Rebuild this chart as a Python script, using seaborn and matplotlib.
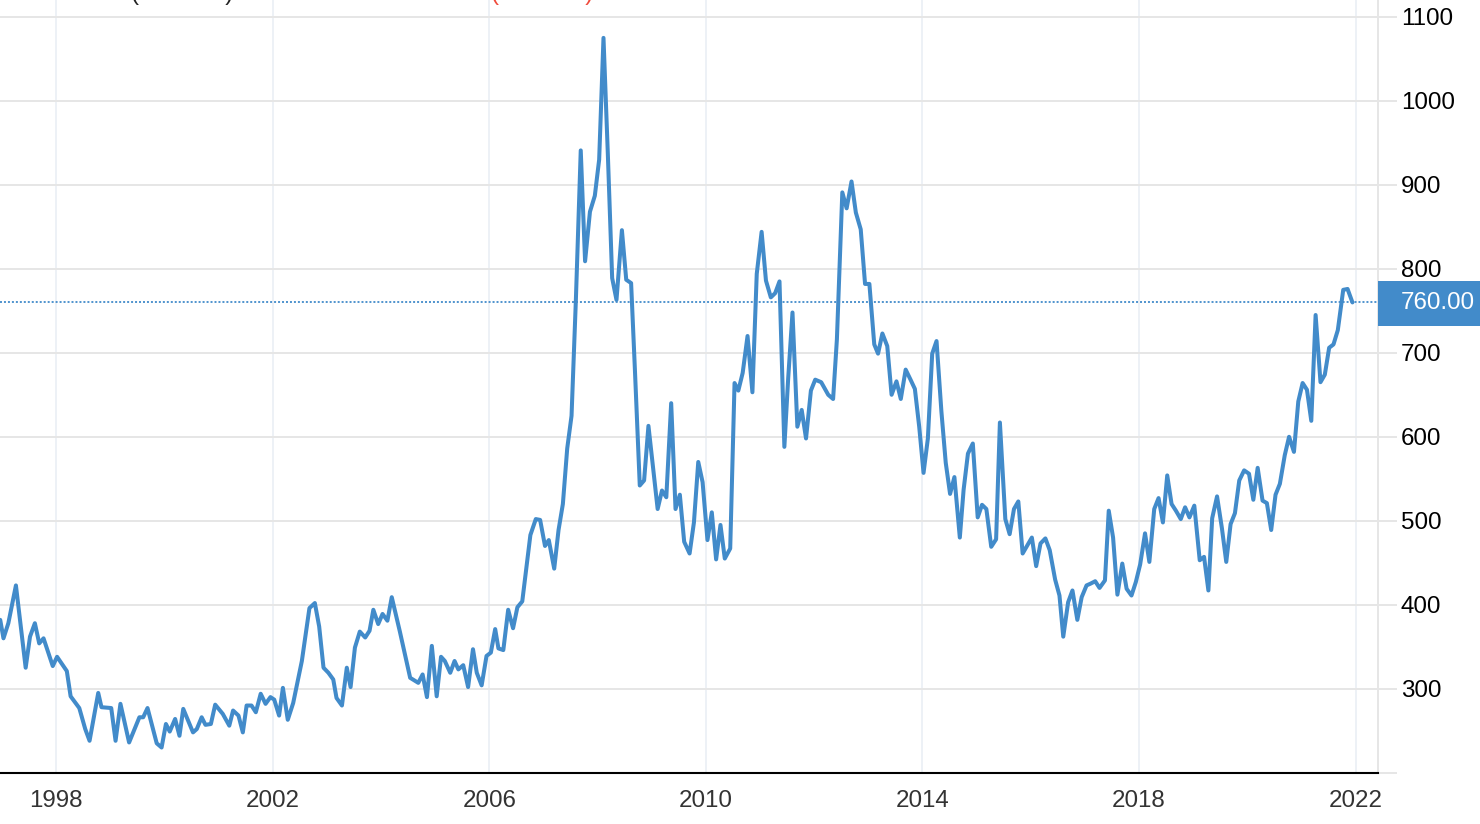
import matplotlib
matplotlib.use("Agg")
import matplotlib.pyplot as plt
import seaborn as sns
import pandas as pd
from matplotlib.patches import Rectangle

# ---- data (decimal year, price) ----
years = [
    1996.97, 1997.03, 1997.12, 1997.26, 1997.44, 1997.52, 1997.61, 1997.69, 1997.77, 1997.94,
    1998.02, 1998.20, 1998.27, 1998.43, 1998.54, 1998.62, 1998.78, 1998.84, 1999.02, 1999.10,
    1999.19, 1999.35, 1999.54, 1999.61, 1999.69, 1999.86, 1999.95, 2000.03, 2000.10, 2000.20,
    2000.28, 2000.35, 2000.53, 2000.60, 2000.69, 2000.76, 2000.86, 2000.94, 2001.08, 2001.20,
    2001.27, 2001.37, 2001.45, 2001.52, 2001.61, 2001.69, 2001.78, 2001.87, 2001.96, 2002.03,
    2002.12, 2002.19, 2002.28, 2002.38, 2002.54, 2002.68, 2002.78, 2002.86, 2002.94, 2003.03,
    2003.12, 2003.18, 2003.28, 2003.37, 2003.44, 2003.52, 2003.61, 2003.71, 2003.79, 2003.86,
    2003.95, 2004.03, 2004.12, 2004.20, 2004.35, 2004.54, 2004.69, 2004.77, 2004.85, 2004.94,
    2005.03, 2005.11, 2005.18, 2005.28, 2005.36, 2005.43, 2005.52, 2005.61, 2005.70, 2005.77,
    2005.86, 2005.95, 2006.03, 2006.11, 2006.17, 2006.26, 2006.35, 2006.44, 2006.52, 2006.61,
    2006.76, 2006.86, 2006.94, 2007.03, 2007.10, 2007.20, 2007.28, 2007.36, 2007.44, 2007.52,
    2007.60, 2007.69, 2007.77, 2007.86, 2007.95, 2008.03, 2008.11, 2008.19, 2008.27, 2008.35,
    2008.45, 2008.53, 2008.62, 2008.69, 2008.78, 2008.86, 2008.94, 2009.11, 2009.19, 2009.27,
    2009.36, 2009.44, 2009.52, 2009.60, 2009.70, 2009.78, 2009.86, 2009.94, 2010.03, 2010.11,
    2010.19, 2010.27, 2010.35, 2010.45, 2010.53, 2010.60, 2010.68, 2010.77, 2010.86, 2010.94,
    2011.03, 2011.11, 2011.20, 2011.28, 2011.36, 2011.45, 2011.52, 2011.60, 2011.69, 2011.77,
    2011.85, 2011.94, 2012.02, 2012.13, 2012.26, 2012.35, 2012.42, 2012.52, 2012.60, 2012.69,
    2012.77, 2012.86, 2012.94, 2013.02, 2013.11, 2013.18, 2013.26, 2013.35, 2013.43, 2013.52,
    2013.60, 2013.69, 2013.78, 2013.86, 2013.94, 2014.02, 2014.10, 2014.18, 2014.26, 2014.35,
    2014.43, 2014.51, 2014.59, 2014.69, 2014.76, 2014.84, 2014.93, 2015.02, 2015.10, 2015.18,
    2015.27, 2015.36, 2015.43, 2015.53, 2015.61, 2015.69, 2015.77, 2015.85, 2015.94, 2016.02,
    2016.10, 2016.18, 2016.27, 2016.35, 2016.45, 2016.53, 2016.60, 2016.69, 2016.77, 2016.86,
    2016.94, 2017.03, 2017.10, 2017.19, 2017.27, 2017.37, 2017.44, 2017.52, 2017.60, 2017.69,
    2017.77, 2017.86, 2017.94, 2018.02, 2018.11, 2018.19, 2018.28, 2018.36, 2018.44, 2018.52,
    2018.60, 2018.68, 2018.77, 2018.85, 2018.93, 2019.02, 2019.12, 2019.20, 2019.28, 2019.35,
    2019.44, 2019.53, 2019.61, 2019.69, 2019.77, 2019.85, 2019.94, 2020.03, 2020.11, 2020.19,
    2020.28, 2020.36, 2020.44, 2020.52, 2020.60, 2020.69, 2020.77, 2020.86, 2020.94, 2021.02,
    2021.10, 2021.18, 2021.26, 2021.35, 2021.43, 2021.51, 2021.59, 2021.67, 2021.77, 2021.85,
    2021.94,
]
prices = [
    382, 360, 378, 423, 325, 362, 378, 354, 360, 327,
    338, 321, 291, 277, 252, 238, 295, 278, 277, 238,
    282, 236, 266, 266, 277, 235, 230, 258, 249, 264,
    244, 276, 248, 252, 266, 257, 258, 281, 270, 256,
    274, 268, 248, 280, 280, 272, 294, 282, 290, 287,
    268, 301, 263, 283, 333, 396, 402, 374, 325, 319,
    311, 289, 280, 325, 302, 349, 368, 361, 369, 394,
    377, 389, 381, 409, 368, 313, 307, 317, 290, 351,
    291, 338, 333, 319, 333, 323, 328, 302, 347, 319,
    304, 339, 343, 371, 348, 346, 394, 372, 397, 404,
    483, 502, 501, 470, 477, 443, 489, 520, 586, 625,
    763, 941, 809, 868, 887, 930, 1075, 937, 789, 763,
    846, 787, 783, 680, 542, 548, 613, 514, 536, 528,
    640, 514, 531, 475, 461, 498, 570, 546, 477, 510,
    454, 495, 455, 467, 664, 655, 676, 720, 653, 794,
    844, 786, 766, 771, 785, 588, 669, 748, 612, 632,
    598, 655, 668, 665, 650, 645, 716, 891, 872, 904,
    867, 847, 782, 782, 710, 699, 723, 708, 650, 666,
    645, 680, 668, 657, 612, 557, 598, 699, 714, 630,
    569, 532, 552, 480, 537, 580, 592, 504, 519, 514,
    469, 478, 617, 502, 484, 514, 523, 461, 471, 480,
    446, 473, 479, 465, 430, 411, 362, 403, 417, 382,
    409, 423, 425, 428, 420, 429, 512, 480, 412, 449,
    419, 411, 427, 448, 485, 451, 514, 527, 498, 554,
    520, 512, 502, 516, 504, 518, 453, 457, 417, 503,
    529, 491, 451, 496, 509, 548, 560, 556, 525, 563,
    524, 521, 489, 531, 544, 578, 600, 582, 642, 664,
    656, 619, 745, 665, 674, 706, 710, 727, 775, 776,
    760,
]
last_value = 760.00
x_ticks = [1998, 2002, 2006, 2010, 2014, 2018, 2022]
x_tick_labels = ["1998", "2002", "2006", "2010", "2014", "2018", "2022"]
y_ticks = [200, 300, 400, 500, 600, 700, 800, 900, 1000, 1100]
y_tick_labels = ["", "300", "400", "500", "600", "700", "800", "900", "1000", "1100"]
legend_units = "(USD/Bu)"

df = pd.DataFrame({"year": years, "price": prices})

sns.set_theme(style="white")
plt.rcParams["font.family"] = ["Liberation Sans", "DejaVu Sans"]

FS = 17.4
W, H = 1480, 824
fig = plt.figure(figsize=(W / 100, H / 100), dpi=100)
ax_right_px = 1378
ax_bottom_px = 772.7
ax = fig.add_axes([0, (H - ax_bottom_px) / H, ax_right_px / W, ax_bottom_px / H])

BLUE = "#428bca"
GRID = "#e6e6e6"
VGRID = "#edf1f6"

for xt in x_ticks:
    ax.axvline(xt, color=VGRID, lw=1.4, zorder=0)
for yt in y_ticks[1:]:
    ax.axhline(yt, color=GRID, lw=1.4, zorder=0)

sns.lineplot(data=df, x="year", y="price", ax=ax, color=BLUE, lw=2.9,
             estimator=None, sort=False, zorder=3)

ax.axhline(last_value, color=BLUE, lw=1.3, ls=(0, (1.1, 1.1)), zorder=2)

ax.set_xlim(1996.966, 2022.412)
ax.set_ylim(200, 1120.1)
ax.set_xlabel("")
ax.set_ylabel("")

ax.set_xticks(x_ticks)
ax.set_xticklabels(x_tick_labels)
ax.yaxis.tick_right()
ax.set_yticks(y_ticks)
ax.set_yticklabels(y_tick_labels)

ax.tick_params(axis="x", length=0, pad=12.5, labelsize=FS, labelcolor="#333333")
ax.tick_params(axis="y", which="both", right=True, left=False, length=13.7, width=1.4,
               color=GRID, pad=2.6, labelsize=FS, labelcolor="#000000")

for s in ["left", "top"]:
    ax.spines[s].set_visible(False)
ax.spines["bottom"].set_color("#000000")
ax.spines["bottom"].set_linewidth(1.5)
ax.spines["right"].set_color(GRID)
ax.spines["right"].set_linewidth(1.4)
ax.grid(False)

# last-value badge
fig.canvas.draw()
_, y_disp = ax.transData.transform((2000, last_value))
box_h = 45
fig.patches.append(Rectangle((ax_right_px / W, (y_disp - box_h / 2 - 1) / H),
                             (W - ax_right_px) / W, box_h / H,
                             transform=fig.transFigure, facecolor=BLUE,
                             edgecolor="none", zorder=5))
fig.text(1401 / W, (y_disp - 1) / H, f"{last_value:.2f}", color="white",
         fontsize=FS, ha="left", va="center", zorder=6)

# clipped legend at the very top (only the bottom of the parentheses is visible)
fig.text(130 / W, 1.0, legend_units, color="#222222", fontsize=FS,
         ha="left", va="baseline")
fig.text(490 / W, 1.0, legend_units, color="#f04b3c", fontsize=FS,
         ha="left", va="baseline")

fig.savefig("out.png", dpi=100)
